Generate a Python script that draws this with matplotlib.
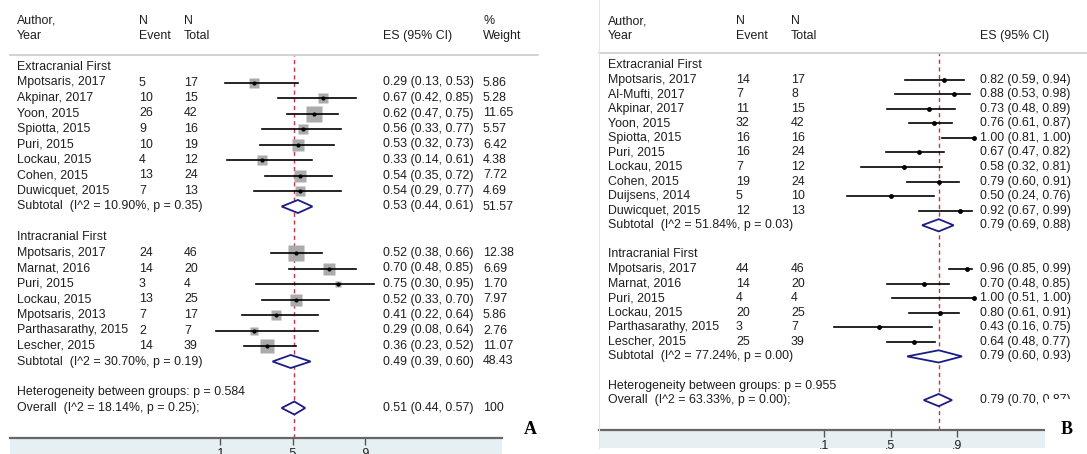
import numpy as np
import matplotlib.pyplot as plt
import matplotlib.transforms as mtransforms
from matplotlib.lines import Line2D
from matplotlib.patches import Polygon, Rectangle

W, H = 1087, 454
plt.rcParams['font.family'] = ['Liberation Sans', 'DejaVu Sans']
FS = 8.9
TXT = '#1e1e1e'
NAVY = '#1c1c86'
RED = '#cc3344'

# study rows: author, n event, n total, ES, lower, upper, % weight
a_extra = [
    ("Mpotsaris, 2017", 5, 17, 0.29, 0.13, 0.53, 5.86),
    ("Akpinar, 2017", 10, 15, 0.67, 0.42, 0.85, 5.28),
    ("Yoon, 2015", 26, 42, 0.62, 0.47, 0.75, 11.65),
    ("Spiotta, 2015", 9, 16, 0.56, 0.33, 0.77, 5.57),
    ("Puri, 2015", 10, 19, 0.53, 0.32, 0.73, 6.42),
    ("Lockau, 2015", 4, 12, 0.33, 0.14, 0.61, 4.38),
    ("Cohen, 2015", 13, 24, 0.54, 0.35, 0.72, 7.72),
    ("Duwicquet, 2015", 7, 13, 0.54, 0.29, 0.77, 4.69),
]
a_extra_sub = ("Subtotal  (I^2 = 10.90%, p = 0.35)", 0.53, 0.44, 0.61, 51.57)
a_intra = [
    ("Mpotsaris, 2017", 24, 46, 0.52, 0.38, 0.66, 12.38),
    ("Marnat, 2016", 14, 20, 0.70, 0.48, 0.85, 6.69),
    ("Puri, 2015", 3, 4, 0.75, 0.30, 0.95, 1.70),
    ("Lockau, 2015", 13, 25, 0.52, 0.33, 0.70, 7.97),
    ("Mpotsaris, 2013", 7, 17, 0.41, 0.22, 0.64, 5.86),
    ("Parthasarathy, 2015", 2, 7, 0.29, 0.08, 0.64, 2.76),
    ("Lescher, 2015", 14, 39, 0.36, 0.23, 0.52, 11.07),
]
a_intra_sub = ("Subtotal  (I^2 = 30.70%, p = 0.19)", 0.49, 0.39, 0.60, 48.43)
a_het = "Heterogeneity between groups: p = 0.584"
a_overall = ("Overall  (I^2 = 18.14%, p = 0.25);", 0.51, 0.44, 0.57, 100)

b_extra = [
    ("Mpotsaris, 2017", 14, 17, 0.82, 0.59, 0.94, None),
    ("Al-Mufti, 2017", 7, 8, 0.88, 0.53, 0.98, None),
    ("Akpinar, 2017", 11, 15, 0.73, 0.48, 0.89, None),
    ("Yoon, 2015", 32, 42, 0.76, 0.61, 0.87, None),
    ("Spiotta, 2015", 16, 16, 1.00, 0.81, 1.00, None),
    ("Puri, 2015", 16, 24, 0.67, 0.47, 0.82, None),
    ("Lockau, 2015", 7, 12, 0.58, 0.32, 0.81, None),
    ("Cohen, 2015", 19, 24, 0.79, 0.60, 0.91, None),
    ("Duijsens, 2014", 5, 10, 0.50, 0.24, 0.76, None),
    ("Duwicquet, 2015", 12, 13, 0.92, 0.67, 0.99, None),
]
b_extra_sub = ("Subtotal  (I^2 = 51.84%, p = 0.03)", 0.79, 0.69, 0.88, None)
b_intra = [
    ("Mpotsaris, 2017", 44, 46, 0.96, 0.85, 0.99, None),
    ("Marnat, 2016", 14, 20, 0.70, 0.48, 0.85, None),
    ("Puri, 2015", 4, 4, 1.00, 0.51, 1.00, None),
    ("Lockau, 2015", 20, 25, 0.80, 0.61, 0.91, None),
    ("Parthasarathy, 2015", 3, 7, 0.43, 0.16, 0.75, None),
    ("Lescher, 2015", 25, 39, 0.64, 0.48, 0.77, None),
]
b_intra_sub = ("Subtotal  (I^2 = 77.24%, p = 0.00)", 0.79, 0.60, 0.93, None)
b_het = "Heterogeneity between groups: p = 0.955"
b_overall = ("Overall  (I^2 = 63.33%, p = 0.00);", 0.79, 0.70, 0.87, None)

ticks = [0.1, 0.5, 0.9]
tick_labels = ['.1', '.5', '.9']

fig = plt.figure(figsize=(W / 100, H / 100), dpi=100)


def es_text(es, lo, hi):
    return f"{es:.2f} ({lo:.2f}, {hi:.2f})"


def diamond(ax, es, lo, hi, y, h=0.42):
    ax.add_patch(Polygon([(lo, y), (es, y - h), (hi, y), (es, y + h)],
                         closed=True, fc='white', ec=NAVY, lw=1.3, zorder=3))


def forest(box, scale, row0, step, cols, groups, het, overall, weights, dot_ms):
    # box: axes extent in pixels (left, right, top, bottom)
    # scale: pixel positions of x=0.1 and x=0.9
    x0, x1, y0, y1 = box
    ax = fig.add_axes([x0 / W, 1 - y1 / H, (x1 - x0) / W, (y1 - y0) / H])
    ax.patch.set_visible(False)
    p1, p9 = scale
    ppu = (p9 - p1) / 0.8
    ax.set_xlim(0.1 - (p1 - x0) / ppu, 0.9 + (x1 - p9) / ppu)
    ax.set_ylim((y1 - row0) / step, (y0 - row0) / step)
    for s in ('top', 'left', 'right'):
        ax.spines[s].set_visible(False)
    ax.spines['bottom'].set_color('#666666')
    ax.spines['bottom'].set_linewidth(1.6)
    ax.set_yticks([])
    ax.set_xticks(ticks, tick_labels)
    ax.tick_params(axis='x', direction='out', length=5, width=1, color='#555555',
                   labelsize=FS, labelcolor=TXT, pad=2)

    tr = mtransforms.blended_transform_factory(fig.transFigure, ax.transData)

    def put(col, y, s):
        ax.text(cols[col] / W, y, s, transform=tr, fontsize=FS, color=TXT,
                va='center', ha='left')

    # header
    put('author', -3, "Author,")
    put('author', -2, "Year")
    put('event', -3, "N")
    put('event', -2, "Event")
    put('total', -3, "N")
    put('total', -2, "Total")
    put('es', -2, "ES (95% CI)")
    if weights:
        put('w', -3, "%")
        put('w', -2, "Weight")

    r = 0
    for title, studies, sub in groups:
        put('author', r, title)
        r += 1
        for name, ev, tot, es, lo, hi, w in studies:
            put('author', r, name)
            put('event', r, str(ev))
            put('total', r, str(tot))
            put('es', r, es_text(es, lo, hi))
            if weights:
                put('w', r, f"{w:.2f}")
                ax.plot(es, r, 's', ms=3.17 * np.sqrt(w), color='#ababab',
                        mec='none', zorder=1)
            ax.plot([lo, hi], [r, r], color='black', lw=1.2, zorder=2)
            ax.plot(es, r, 'o', ms=dot_ms, color='black', mec='none', zorder=3)
            r += 1
        label, es, lo, hi, w = sub
        put('author', r, label)
        put('es', r, es_text(es, lo, hi))
        if weights:
            put('w', r, f"{w:.2f}")
        diamond(ax, es, lo, hi, r)
        r += 2
    put('author', r, het)
    r += 1
    label, es, lo, hi, w = overall
    put('author', r, label)
    put('es', r, es_text(es, lo, hi))
    if weights:
        put('w', r, f"{w:g}")
    diamond(ax, es, lo, hi, r)

    ax.axvline(es, color=RED, lw=1, ls=(0, (3, 2.5)), zorder=0)
    return ax


forest((10, 502, 55, 438), (220, 365), 67, 15.5,
       dict(author=17, event=139, total=184, es=383, w=483),
       [("Extracranial First", a_extra, a_extra_sub),
        ("Intracranial First", a_intra, a_intra_sub)],
       a_het, a_overall, True, 3.0)

forest((599, 1045, 53, 430), (824, 957), 65, 14.57,
       dict(author=608, event=736, total=791, es=980),
       [("Extracranial First", b_extra, b_extra_sub),
        ("Intracranial First", b_intra, b_intra_sub)],
       b_het, b_overall, False, 3.5)


def fig_line(xa, xb, y, **kw):
    fig.add_artist(Line2D([xa / W, xb / W], [1 - y / H, 1 - y / H], **kw))


def fig_rect(xa, xb, ya, yb, **kw):
    fig.add_artist(Rectangle((xa / W, 1 - yb / H), (xb - xa) / W, (yb - ya) / H,
                             transform=fig.transFigure, **kw))


# header rules
fig_line(10, 538, 55, color='#cccccc', lw=1.2)
fig_line(599, 1087, 53, color='#cccccc', lw=1.2)
# panel edge of B
fig.add_artist(Line2D([599 / W, 599 / W], [1 - 448 / H, 1.0], color='#e4e4e4', lw=0.8))

# shaded strips under the axes
fig_rect(10, 502, 438, 454, fc='#e6eff2', ec='none', zorder=-1)
fig_rect(599, 1045, 430, 448, fc='#e6eff2', ec='none', zorder=-1)
# label box of B covers the end of the overall estimate
fig_rect(1045, 1087, 399, 454, fc='white', ec='none', zorder=10)

fig.text(530 / W, 1 - 429 / H, "A", fontsize=13, fontweight='bold',
         family=['Liberation Serif', 'DejaVu Serif'], ha='center', va='center', zorder=11)
fig.text(1067 / W, 1 - 429 / H, "B", fontsize=13, fontweight='bold',
         family=['Liberation Serif', 'DejaVu Serif'], ha='center', va='center', zorder=11)

fig.savefig('out.png', dpi=100)
